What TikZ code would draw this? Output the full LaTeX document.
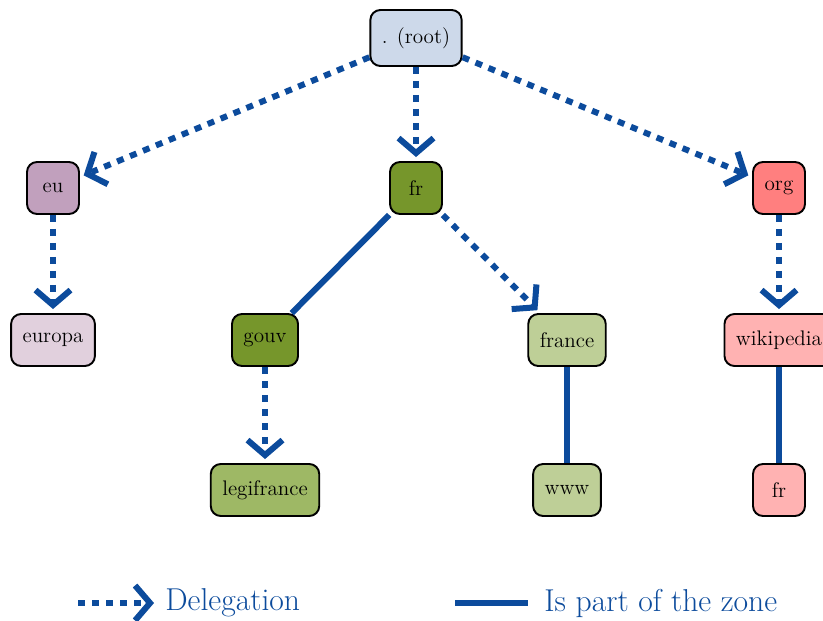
\documentclass[tikz,border=0pt]{standalone}
\usepackage{tikz}
\usetikzlibrary{arrows.meta,positioning}

\definecolor{linkblue}{RGB}{12,75,156}
\definecolor{rootfill}{RGB}{205,217,234}
\definecolor{eufill}{RGB}{193,160,189}
\definecolor{eulight}{RGB}{225,208,221}
\definecolor{frfill}{RGB}{118,150,43}
\definecolor{frmid}{RGB}{158,184,101}
\definecolor{frlight}{RGB}{190,207,151}
\definecolor{orgfill}{RGB}{255,127,127}
\definecolor{orglight}{RGB}{255,178,178}

\begin{document}
\begin{tikzpicture}[
    node distance=3cm,
    zone node/.style={rectangle,rounded corners=0.2cm,draw=black,line width=1.1pt,
        minimum width=1.04cm,minimum height=1.04cm,inner xsep=0.23cm,
        font=\fontsize{12}{14}\selectfont},
    deleg/.style={draw=linkblue,line width=0.12cm,dash pattern=on 0.14cm off 0.14cm,
        -{Straight Barb[length=0.3cm,width=0.7cm]},shorten >=0.08cm},
    part/.style={draw=linkblue,line width=0.12cm},
    legend text/.style={inner sep=0pt,anchor=west,text=linkblue,
        font=\fontsize{18}{22}\selectfont}
]
\useasboundingbox (0,0) rectangle (16.46,-12.42);

% Root
\node[zone node, fill=rootfill, minimum height=1.12cm] (root) at (8.32,-0.76) {. (root)};

% Top level domains
\node[zone node, fill=eufill, below of=root, xshift=-7.26cm] (eu) {eu};
\node[zone node, fill=frfill, below of=root] (fr) {fr};
\node[zone node, fill=orgfill, below of=root, xshift=7.26cm] (org) {org};

% Second level
\node[zone node, fill=eulight, below of=eu, yshift=-0.04cm] (europa) {europa};
\node[zone node, fill=frfill, below of=fr, xshift=-3.02cm, yshift=-0.04cm] (gouv) {gouv};
\node[zone node, fill=frlight, below of=fr, xshift=3.02cm, yshift=-0.04cm] (france) {france};
\node[zone node, fill=orglight, below of=org, yshift=-0.04cm] (wikipedia) {wikipedia};

% Third level
\node[zone node, fill=frmid, below of=gouv] (legifrance) {legifrance};
\node[zone node, fill=frlight, below of=france] (www) {www};
\node[zone node, fill=orglight, below of=wikipedia] (frwiki) {fr};

% Delegations
\draw[deleg] (root) -- (eu);
\draw[deleg] (root) -- (fr);
\draw[deleg] (root) -- (org);
\draw[deleg] (eu) -- (europa);
\draw[deleg] (fr) -- (france);
\draw[deleg] (org) -- (wikipedia);
\draw[deleg] (gouv) -- (legifrance);

% Parts of the zone
\draw[part] (fr) -- (gouv);
\draw[part] (france) -- (www);
\draw[part] (wikipedia) -- (frwiki);

% Legend
\coordinate (delstart) at (1.56,-12.06);
\coordinate (delend) at (3.08,-12.06);
\node[legend text] (deltext) at (3.3,-12.06) {Delegation};
\draw[deleg, shorten >=0pt] (delstart) -- (delend);

\coordinate (partstart) at (9.1,-12.06);
\coordinate (partend) at (10.56,-12.06);
\node[legend text] (parttext) at (10.88,-12.06) {Is part of the zone};
\draw[part] (partstart) -- (partend);

\end{tikzpicture}
\end{document}
